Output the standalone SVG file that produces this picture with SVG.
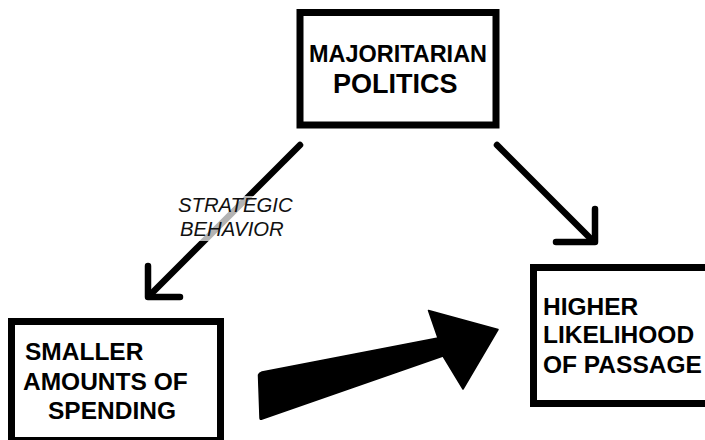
<svg xmlns="http://www.w3.org/2000/svg" width="705" height="440" viewBox="0 0 705 440">
  <style>
    .box { fill: #ffffff; stroke: #000000; stroke-width: 7; }
    .label { font-family: "Liberation Sans", Arial, sans-serif; font-weight: bold; fill: #000000; font-size: 24.5px; }
    .edge { fill: none; stroke: #000000; stroke-width: 6.5; stroke-linecap: round; stroke-linejoin: round; }
    .note { font-family: "Liberation Sans", Arial, sans-serif; font-style: italic; fill: #111111; font-size: 20.3px; }
  </style>
  <rect width="705" height="440" fill="#ffffff"/>

  <g id="connectors">
    <!-- Majoritarian politics -> smaller amounts of spending -->
    <g id="edge-strategic">
      <path class="edge" d="M300,145 L150,295"/>
      <path class="edge" d="M148,266 L148,297 L180,297"/>
      <rect x="176" y="196" width="120" height="45" fill="#ffffff" opacity="0.7"/>
      <text class="note" x="178" y="212">STRATEGIC</text>
      <text class="note" x="180" y="236">BEHAVIOR</text>
    </g>
    <!-- Majoritarian politics -> higher likelihood of passage -->
    <g id="edge-passage">
      <path class="edge" d="M497,145 L593,241"/>
      <path class="edge" d="M595,209 L595,242 L556,242"/>
    </g>
    <!-- Smaller spending -> higher likelihood (block arrow) -->
    <g id="edge-block">
      <path d="M260,418 L258.5,375 Q259,373 262,372 L438,338 L428.5,310.5 L498,329.5 L463,389 L443,356 L262,419 Q260,420 260,418 Z" fill="#000000" stroke="#000000" stroke-width="1.5" stroke-linejoin="round"/>
    </g>
  </g>

  <g id="node-majoritarian">
    <rect class="box" x="300" y="12.5" width="196" height="112.5"/>
    <text class="label" x="309" y="62" font-size="23" textLength="178" lengthAdjust="spacingAndGlyphs" style="font-size:23px">MAJORITARIAN</text>
    <text class="label" x="333" y="93" style="font-size:27px">POLITICS</text>
  </g>

  <g id="node-spending">
    <rect class="box" x="11.5" y="321.5" width="209" height="119"/>
    <text class="label" x="25" y="360">SMALLER</text>
    <text class="label" x="23" y="390">AMOUNTS OF</text>
    <text class="label" x="48" y="419">SPENDING</text>
  </g>

  <g id="node-passage">
    <rect class="box" x="533.5" y="267.5" width="200" height="136"/>
    <text class="label" x="543" y="315">HIGHER</text>
    <text class="label" x="543" y="343">LIKELIHOOD</text>
    <text class="label" x="543" y="373">OF PASSAGE</text>
  </g>
</svg>
